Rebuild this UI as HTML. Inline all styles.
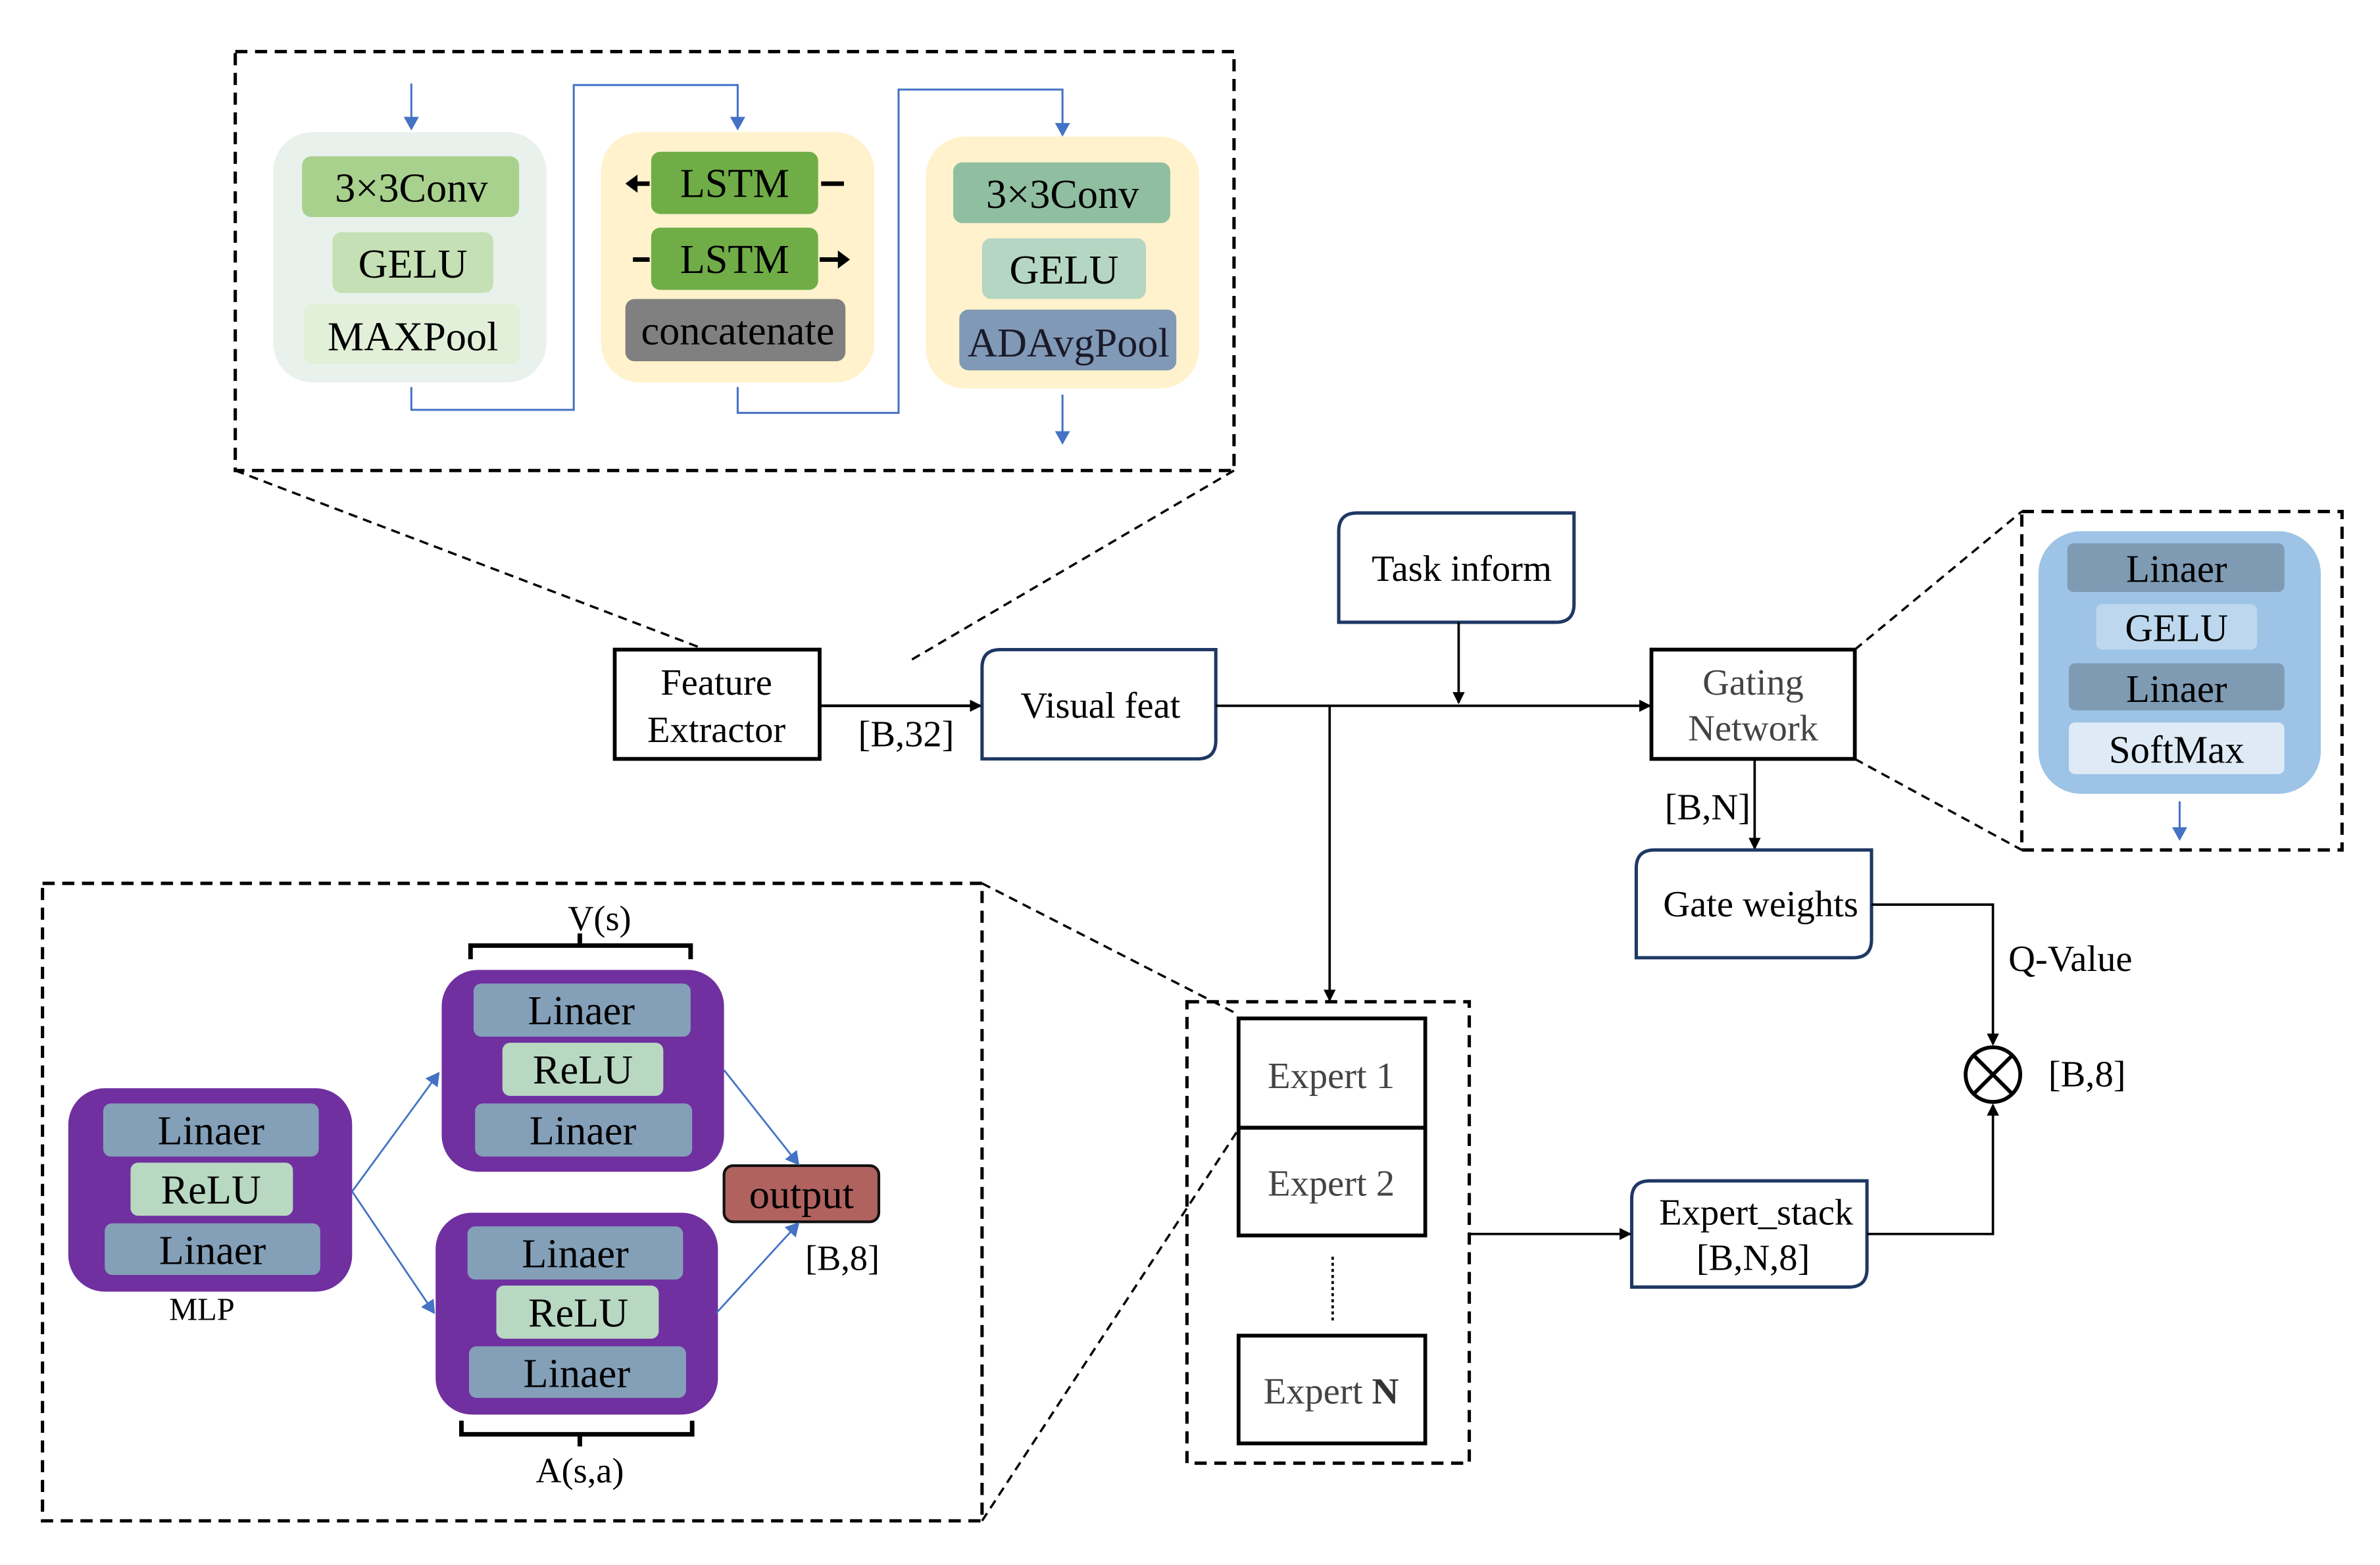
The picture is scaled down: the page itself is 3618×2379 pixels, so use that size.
<!DOCTYPE html>
<html><head><meta charset="utf-8"><style>
html,body{margin:0;padding:0;background:#fff;}
svg{display:block;}
text{font-family:"Liberation Serif",serif;text-anchor:middle;dominant-baseline:central;}
</style></head><body>
<svg width="3618" height="2379" viewBox="0 0 1568 1031.1" preserveAspectRatio="none" xmlns="http://www.w3.org/2000/svg">
<defs>
<marker id="ab" markerWidth="8" markerHeight="8" refX="7" refY="4" orient="auto" markerUnits="userSpaceOnUse"><path d="M0,0 L8,4 L0,8 z" fill="#000"/></marker>
<marker id="abl" markerWidth="9" markerHeight="10" refX="8" refY="5" orient="auto" markerUnits="userSpaceOnUse"><path d="M0,0 L9,5 L0,10 z" fill="#4472c4"/></marker>
</defs>
<rect width="1570" height="1035" fill="#fff"/>

<rect x="155" y="34" width="658" height="276" fill="none" stroke="#000" stroke-width="2.2" stroke-dasharray="8,5"/>
<line x1="155" y1="310" x2="470" y2="430" stroke="#000" stroke-width="1.5" stroke-dasharray="6,4"/>
<line x1="813" y1="310" x2="600" y2="435" stroke="#000" stroke-width="1.5" stroke-dasharray="6,4"/>

<g font-size="27">
<rect x="180" y="87" width="180" height="165" rx="26" fill="#e9f1ec"/>
<rect x="199" y="103" width="143" height="40" rx="6" fill="#a9d18e"/><text x="271" y="124">3×3Conv</text>
<rect x="219" y="153" width="106" height="40" rx="6" fill="#c5e0b4"/><text x="272" y="174">GELU</text>
<rect x="200" y="200" width="143" height="40" rx="6" fill="#e2f0d9"/><text x="272" y="222">MAXPool</text>

<rect x="396" y="87" width="180" height="165" rx="26" fill="#fff2cc"/>
<rect x="429" y="100" width="110" height="41" rx="6" fill="#70ad47"/><text x="484" y="121">LSTM</text>
<rect x="429" y="150" width="110" height="41" rx="6" fill="#70ad47"/><text x="484" y="171">LSTM</text>
<rect x="412" y="197" width="145" height="41" rx="6" fill="#808080"/><text x="486" y="218">concatenate</text>
<line x1="428" y1="121" x2="418" y2="121" stroke="#000" stroke-width="3"/><path d="M412,121 L420,115 L420,127z" fill="#000"/>
<line x1="541" y1="121" x2="556" y2="121" stroke="#000" stroke-width="3"/>
<line x1="417" y1="171" x2="428" y2="171" stroke="#000" stroke-width="3"/>
<line x1="540" y1="171" x2="553" y2="171" stroke="#000" stroke-width="3"/><path d="M560,171 L552,165 L552,177z" fill="#000"/>

<rect x="610" y="90" width="180" height="166" rx="26" fill="#fff2cc"/>
<rect x="628" y="107" width="143" height="40" rx="6" fill="#8fbfa0"/><text x="700" y="128">3×3Conv</text>
<rect x="647" y="157" width="108" height="40" rx="6" fill="#b5d6c2"/><text x="701" y="178">GELU</text>
<rect x="632" y="204" width="143" height="40" rx="6" fill="#8099b6"/><text x="704" y="226" fill="#1a1a2a">ADAvgPool</text>
</g>
<g stroke="#4472c4" stroke-width="1.3" fill="none">
<line x1="271" y1="55" x2="271" y2="85" marker-end="url(#abl)"/>
<polyline points="271,255 271,270 378,270 378,56 486,56 486,85" marker-end="url(#abl)"/>
<polyline points="486,255 486,272 592,272 592,59 700,59 700,89" marker-end="url(#abl)"/>
<line x1="700" y1="260" x2="700" y2="292" marker-end="url(#abl)"/>
</g>

<g font-size="24.5">
<rect x="405" y="428" width="135" height="72" fill="#fff" stroke="#000" stroke-width="2.5"/>
<text x="472" y="450">Feature</text><text x="472" y="481">Extractor</text>
<line x1="540" y1="465" x2="646" y2="465" stroke="#000" stroke-width="1.8" marker-end="url(#ab)"/>
<text x="597" y="484">[B,32]</text>
<path d="M659,428 H801 V488 Q801,500 789,500 H647 V440 Q647,428 659,428z" fill="#fff" stroke="#1f3864" stroke-width="2.2"/>
<text x="725" y="465">Visual feat</text>
<line x1="801" y1="465" x2="1087" y2="465" stroke="#000" stroke-width="1.6" marker-end="url(#ab)"/>
<path d="M894,338 H1037 V398 Q1037,410 1025,410 H882 V350 Q882,338 894,338z" fill="#fff" stroke="#1f3864" stroke-width="2.2"/>
<text x="963" y="375">Task inform</text>
<line x1="961" y1="410" x2="961" y2="463" stroke="#000" stroke-width="1.6" marker-end="url(#ab)"/>
<rect x="1088" y="428" width="134" height="72" fill="#fff" stroke="#000" stroke-width="2.5"/>
<text x="1155" y="450" fill="#444">Gating</text><text x="1155" y="480" fill="#444">Network</text>

<text x="1125" y="532">[B,N]</text>
<line x1="1156" y1="500" x2="1156" y2="559" stroke="#000" stroke-width="1.6" marker-end="url(#ab)"/>
<path d="M1090,560 H1233 V619 Q1233,631 1221,631 H1078 V572 Q1078,560 1090,560z" fill="#fff" stroke="#1f3864" stroke-width="2.2"/>
<text x="1160" y="596">Gate weights</text>
<polyline points="1233,596 1313,596 1313,688" fill="none" stroke="#000" stroke-width="1.6" marker-end="url(#ab)"/>
<text x="1364" y="632">Q-Value</text>
<text x="1375" y="708">[B,8]</text>
<path d="M1087,778 H1230 V836 Q1230,848 1218,848 H1075 V790 Q1075,778 1087,778z" fill="#fff" stroke="#1f3864" stroke-width="2.2"/>
<text x="1157" y="799">Expert_stack</text><text x="1155" y="829">[B,N,8]</text>

<text x="877" y="709" fill="#444">Expert 1</text>
<text x="877" y="780" fill="#444">Expert 2</text>
</g>

<rect x="1332" y="337" width="211" height="223" fill="none" stroke="#000" stroke-width="2.2" stroke-dasharray="8,5"/>
<line x1="1222" y1="428" x2="1332" y2="337" stroke="#000" stroke-width="1.5" stroke-dasharray="6,4"/>
<line x1="1222" y1="500" x2="1332" y2="560" stroke="#000" stroke-width="1.5" stroke-dasharray="6,4"/>
<rect x="1343" y="350" width="186" height="173" rx="28" fill="#9dc3e6"/>
<g font-size="25.5">
<rect x="1362" y="358" width="143" height="32" rx="4" fill="#7f9ab3"/><text x="1434" y="375">Linaer</text>
<rect x="1381" y="398" width="106" height="30" rx="4" fill="#bdd7ee"/><text x="1434" y="414">GELU</text>
<rect x="1363" y="437" width="142" height="31" rx="4" fill="#7f9ab3"/><text x="1434" y="454">Linaer</text>
<rect x="1363" y="476" width="142" height="34" rx="4" fill="#deebf7"/><text x="1434" y="494">SoftMax</text>
</g>
<line x1="1436" y1="528" x2="1436" y2="553" stroke="#4472c4" stroke-width="1.3" marker-end="url(#abl)"/>

<circle cx="1313" cy="708" r="18" fill="#fff" stroke="#000" stroke-width="2.5"/>
<line x1="1300" y1="695" x2="1326" y2="721" stroke="#000" stroke-width="2.5"/>
<line x1="1326" y1="695" x2="1300" y2="721" stroke="#000" stroke-width="2.5"/>
<polyline points="1230,813 1313,813 1313,728" fill="none" stroke="#000" stroke-width="1.6" marker-end="url(#ab)"/>

<line x1="876" y1="465" x2="876" y2="659" stroke="#000" stroke-width="1.6" marker-end="url(#ab)"/>
<rect x="782" y="660" width="186" height="304" fill="none" stroke="#000" stroke-width="2.2" stroke-dasharray="8,5"/>
<line x1="968" y1="813" x2="1074" y2="813" stroke="#000" stroke-width="1.6" marker-end="url(#ab)"/>
<rect x="816" y="671" width="123" height="72" fill="none" stroke="#000" stroke-width="2.5"/>
<rect x="816" y="743" width="123" height="71" fill="none" stroke="#000" stroke-width="2.5"/>
<rect x="816" y="880" width="123" height="71" fill="#fff" stroke="#000" stroke-width="2.5"/>
<text x="877" y="917" font-size="24.5" fill="#444">Expert <tspan font-weight="bold" fill="#333">N</tspan></text>
<line x1="878" y1="828" x2="878" y2="870" stroke="#000" stroke-width="1.6" stroke-dasharray="2,2"/>
<line x1="647" y1="582" x2="815" y2="668" stroke="#000" stroke-width="1.5" stroke-dasharray="6,4"/>
<line x1="647" y1="1002" x2="816" y2="744" stroke="#000" stroke-width="1.5" stroke-dasharray="6,4"/>

<rect x="28" y="582" width="619" height="420" fill="none" stroke="#000" stroke-width="2.2" stroke-dasharray="8,5"/>
<g font-size="27">
<rect x="45" y="717" width="187" height="134" rx="24" fill="#7030a0"/>
<rect x="68" y="727" width="142" height="35" rx="5" fill="#849fb8"/><text x="139" y="745">Linaer</text>
<rect x="86" y="766" width="107" height="35" rx="5" fill="#b8d8c2"/><text x="139" y="784">ReLU</text>
<rect x="69" y="806" width="142" height="34" rx="5" fill="#849fb8"/><text x="140" y="824">Linaer</text>

<rect x="291" y="639" width="186" height="133" rx="24" fill="#7030a0"/>
<rect x="312" y="648" width="143" height="35" rx="5" fill="#849fb8"/><text x="383" y="666">Linaer</text>
<rect x="331" y="687" width="106" height="35" rx="5" fill="#b8d8c2"/><text x="384" y="705">ReLU</text>
<rect x="313" y="727" width="143" height="35" rx="5" fill="#849fb8"/><text x="384" y="745">Linaer</text>

<rect x="287" y="799" width="186" height="133" rx="24" fill="#7030a0"/>
<rect x="308" y="808" width="142" height="35" rx="5" fill="#849fb8"/><text x="379" y="826">Linaer</text>
<rect x="327" y="847" width="107" height="35" rx="5" fill="#b8d8c2"/><text x="381" y="865">ReLU</text>
<rect x="309" y="887" width="143" height="34" rx="5" fill="#849fb8"/><text x="380" y="905">Linaer</text>

<rect x="477" y="768" width="102" height="37" rx="6" fill="#b0625f" stroke="#111" stroke-width="1.8"/><text x="528" y="787">output</text>
</g>
<text x="133" y="863" font-size="21">MLP</text>
<text x="395" y="605" font-size="23.5">V(s)</text>
<text x="382" y="969" font-size="23.5">A(s,a)</text>
<text x="555" y="829" font-size="23.5">[B,8]</text>
<path d="M310,632 V623 H455 V632 M382,623 V615" fill="none" stroke="#000" stroke-width="3"/>
<path d="M304,936 V945 H456 V936 M382,945 V953" fill="none" stroke="#000" stroke-width="3"/>
<g stroke="#4472c4" stroke-width="1.2" fill="none">
<line x1="232" y1="785" x2="289" y2="707" marker-end="url(#abl)"/>
<line x1="232" y1="785" x2="286" y2="865" marker-end="url(#abl)"/>
<line x1="477" y1="705" x2="526" y2="767" marker-end="url(#abl)"/>
<line x1="472" y1="865" x2="526" y2="806" marker-end="url(#abl)"/>
</g>
</svg>
</body></html>
